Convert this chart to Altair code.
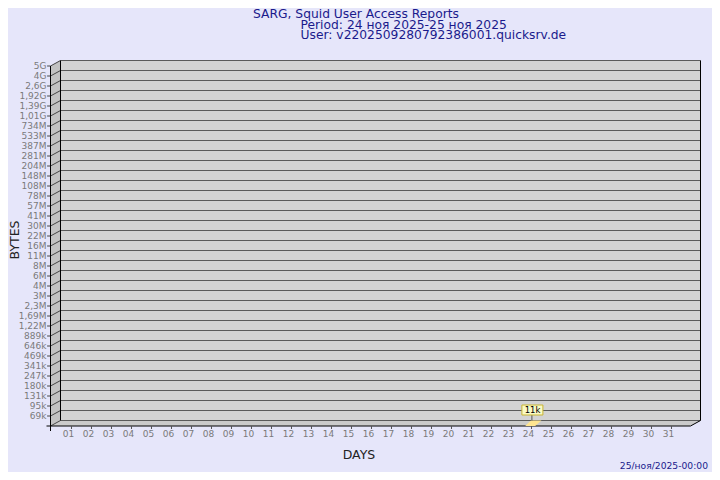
import math
import altair as alt
import pandas as pd

# ---------------- data ----------------
day_numbers = list(range(1, 32))
day_labels = [f"{d:02d}" for d in day_numbers]
y_tick_labels = ["69k", "95k", "131k", "180k", "247k", "341k", "469k", "646k", "889k",
                 "1,22M", "1,69M", "2,3M", "3M", "4M", "6M", "8M", "11M", "16M", "22M",
                 "30M", "41M", "57M", "78M", "108M", "148M", "204M", "281M", "387M",
                 "533M", "734M", "1,01G", "1,39G", "1,92G", "2,6G", "4G", "5G"]
axis_low_bytes = 69000
axis_high_bytes = 5e9
bar_days = [24]
bar_bytes = [11000]
bar_texts = ["11k"]
title_lines = ["SARG, Squid User Access Reports",
               "Period: 24 ноя 2025-25 ноя 2025",
               "User: v2202509280792386001.quicksrv.de"]
footer_text = "25/ноя/2025-00:00"
x_title = "DAYS"
y_title = "BYTES"

# ---------------- layout ----------------
W, H = 704, 464
BG = "#e6e6fa"
FONT = "DejaVu Sans"
X = alt.Scale(domain=[-2.025, 33.175], nice=False, zero=False)
Y = alt.Scale(domain=[-5.15, 41.25], nice=False, zero=False)
DX, DY = 0.5, 0.55          # 3D depth in scale units
XL, XR = 0.6, 32.6          # back wall x extent
N = len(y_tick_labels)
TOP = N

def xq(f):
    return alt.X(f, type="quantitative", scale=X, axis=None)

def yq(f):
    return alt.Y(f, type="quantitative", scale=Y, axis=None)

layers = []

# back wall
wall = pd.DataFrame({"x": [XL], "x2": [XR], "y": [0], "y2": [TOP]})
layers.append(alt.Chart(wall).mark_rect(color="#d3d3d3").encode(
    x=xq("x"), x2="x2", y=yq("y"), y2="y2"))

# left wall
lw = pd.DataFrame({"x": [XL - DX, XL], "top": [TOP - DY, TOP], "bot": [-DY, 0]})
layers.append(alt.Chart(lw).mark_area(orient="vertical", color="#c2c2c2").encode(
    x=xq("x"), y=yq("top"), y2="bot"))

# floor
fl = pd.DataFrame({"lvl": [-DY, 0], "l": [XL - DX, XL], "r": [XR - DX, XR]})
layers.append(alt.Chart(fl).mark_area(orient="horizontal", color="#cbcbcb").encode(
    y=yq("lvl"), x=xq("l"), x2="r"))

# gridlines on back wall
grid = pd.DataFrame({"y": list(range(0, TOP + 1))})
grid["x"] = XL
grid["x2"] = XR
layers.append(alt.Chart(grid).mark_rule(color="#5a5a5a", strokeWidth=1).encode(
    x=xq("x"), x2="x2", y=yq("y")))

# slanted ticks on left wall + small outer ticks
ticks = pd.DataFrame({"lvl": list(range(0, TOP + 1))})
ticks["x"] = XL - DX
ticks["x2"] = XL
ticks["y"] = ticks["lvl"] - DY
ticks["y2"] = ticks["lvl"]
layers.append(alt.Chart(ticks).mark_rule(color="#444444").encode(
    x=xq("x"), x2="x2", y=yq("y"), y2="y2"))
outer = pd.DataFrame({"lvl": list(range(1, TOP + 1))})
outer["x"] = XL - DX - 0.17
outer["x2"] = XL - DX
outer["y"] = outer["lvl"] - DY
layers.append(alt.Chart(outer).mark_rule(color="#444444").encode(
    x=xq("x"), x2="x2", y=yq("y")))

# frame edges
edges = pd.DataFrame({
    "x":  [XL, XR, XL - DX, XR - DX, XL - DX, XL - DX - 0.2],
    "x2": [XL, XR, XL - DX, XR,      XR - DX, XL - DX],
    "y":  [0, 0, -DY - 0.5, -DY, -DY, -DY],
    "y2": [TOP, TOP, TOP - DY, 0, -DY, -DY],
})
layers.append(alt.Chart(edges).mark_rule(color="#000000").encode(
    x=xq("x"), x2="x2", y=yq("y"), y2="y2"))

# y tick labels
yl = pd.DataFrame({"label": y_tick_labels, "lvl": list(range(1, N + 1))})
yl["x"] = XL - DX - 0.2
yl["y"] = yl["lvl"] - DY
layers.append(alt.Chart(yl).mark_text(align="right", baseline="middle", font=FONT,
                                      fontSize=9, color="#7a7a7a").encode(
    x=xq("x"), y=yq("y"), text="label"))

# x ticks and labels
xd = pd.DataFrame({"day": day_numbers, "label": day_labels})
xd["tx"] = xd["day"] + 0.15
xd["ty"] = -DY
xd["ty2"] = -DY - 0.3
xd["ly"] = -1.3
layers.append(alt.Chart(xd).mark_rule(color="#555555").encode(
    x=xq("tx"), y=yq("ty"), y2="ty2"))
layers.append(alt.Chart(xd).mark_text(align="center", baseline="middle", font=FONT,
                                      fontSize=9, color="#7a7a7a").encode(
    x=xq("day"), y=yq("ly"), text="label"))

# bars
step = (axis_high_bytes / axis_low_bytes) ** (1 / (N - 1))
bars = pd.DataFrame({"day": bar_days, "bytes": bar_bytes, "label": bar_texts})
bars["level"] = [max(0.0, 1 + math.log(v / axis_low_bytes) / math.log(step)) for v in bar_bytes]

front = bars.assign(x=bars.day - 0.17, x2=bars.day + 0.33, y=-DY, y2=bars.level - DY)
layers.append(alt.Chart(front).mark_rect(color="#ffd84a").encode(
    x=xq("x"), x2="x2", y=yq("y"), y2="y2"))

topface_rows = []
for _, r in bars.iterrows():
    topface_rows.append({"day": r.day, "lvl": r.level - DY, "l": r.day - 0.17, "r": r.day + 0.33})
    topface_rows.append({"day": r.day, "lvl": r.level, "l": r.day + 0.13, "r": r.day + 0.65})
topface = pd.DataFrame(topface_rows)
layers.append(alt.Chart(topface).mark_area(orient="horizontal", color="#ffe590").encode(
    y=yq("lvl"), x=xq("l"), x2="r", detail="day:N"))

lead = bars.assign(x=bars.day + 0.17, y=bars.level, y2=bars.level + 0.55)
layers.append(alt.Chart(lead).mark_rule(color="#555555").encode(
    x=xq("x"), y=yq("y"), y2="y2"))
box = bars.assign(x=bars.day - 0.33, x2=bars.day + 0.72, y=bars.level + 0.55, y2=bars.level + 1.55)
layers.append(alt.Chart(box).mark_rect(fill="#fafac4", stroke="#c8b432", strokeWidth=1).encode(
    x=xq("x"), x2="x2", y=yq("y"), y2="y2"))
btxt = bars.assign(x=bars.day + 0.2, y=bars.level + 1.05)
layers.append(alt.Chart(btxt).mark_text(align="center", baseline="middle", font=FONT,
                                        fontSize=8.5, color="#000000").encode(
    x=xq("x"), y=yq("y"), text="label"))

# texts
one = pd.DataFrame({"a": [0]})
def txt(s, x, y, size, color, align="left", angle=0):
    kw = dict(align=align, baseline="middle", font=FONT, fontSize=size, color=color)
    if angle:
        kw["angle"] = angle
    return alt.Chart(one).mark_text(**kw).encode(
        x=alt.value(x), y=alt.value(y), text=alt.value(s))

layers.append(txt(title_lines[0], 245, 6.2, 12.3, "#1a1a8c"))
layers.append(txt(title_lines[1], 292.5, 16.6, 12.3, "#1a1a8c"))
layers.append(txt(title_lines[2], 292.5, 27.0, 12.3, "#1a1a8c"))
layers.append(txt(footer_text, 700, 458, 9.2, "#1a1a8c", align="right"))
layers.append(txt(x_title, 351, 447, 12.5, "#222222", align="center"))
layers.append(txt(y_title, 6.5, 232, 12.5, "#222222", align="center", angle=270))

chart = alt.layer(*layers).properties(
    width=W, height=H, background=BG, padding=0,
    autosize=alt.AutoSizeParams(type="none"),
).configure_view(stroke=None)

chart.save("out.html", embed_options={"renderer": "svg", "actions": False})
